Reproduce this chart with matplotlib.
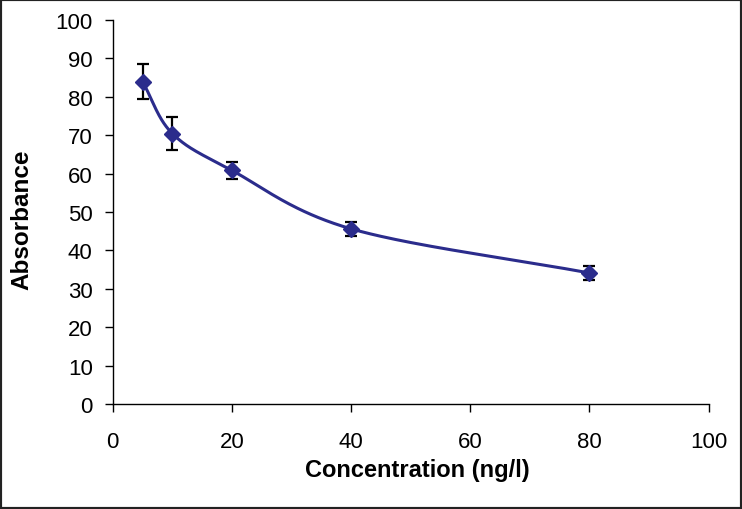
import numpy as np
import matplotlib
matplotlib.use("Agg")
import matplotlib.pyplot as plt
from matplotlib.patches import Rectangle

concentration = [5, 10, 20, 40, 80]
absorbance = [83.9, 70.4, 60.8, 45.6, 34.1]
error = [4.5, 4.2, 2.1, 1.8, 1.9]
x_ticks = [0, 20, 40, 60, 80, 100]
y_ticks = [0, 10, 20, 30, 40, 50, 60, 70, 80, 90, 100]

plt.rcParams['font.family'] = ['Liberation Sans', 'DejaVu Sans']

def smooth_curve(xs, ys, n=60):
    xs = np.asarray(xs, float); ys = np.asarray(ys, float)
    px = np.concatenate([[2*xs[0]-xs[1]], xs, [2*xs[-1]-xs[-2]]])
    py = np.concatenate([[2*ys[0]-ys[1]], ys, [2*ys[-1]-ys[-2]]])
    ox, oy = [], []
    t = np.linspace(0, 1, n)
    for i in range(1, len(px)-2):
        p0 = np.array([px[i], py[i]]); p3 = np.array([px[i+1], py[i+1]])
        c1 = p0 + (np.array([px[i+1], py[i+1]]) - np.array([px[i-1], py[i-1]])) / 6
        c2 = p3 - (np.array([px[i+2], py[i+2]]) - np.array([px[i], py[i]])) / 6
        b = (((1-t)**3)[:, None]*p0 + (3*(1-t)**2*t)[:, None]*c1
             + (3*(1-t)*t**2)[:, None]*c2 + (t**3)[:, None]*p3)
        ox.extend(b[:, 0]); oy.extend(b[:, 1])
    return np.array(ox), np.array(oy)

fig = plt.figure(figsize=(7.42, 5.10), dpi=100)
ax = fig.add_axes([0.152, 0.206, 0.803, 0.753])

color = '#2B2C8C'
sx, sy = smooth_curve(concentration, absorbance)
ax.plot(sx, sy, color=color, lw=2.2, zorder=2, clip_on=False)
ax.errorbar(concentration, absorbance, yerr=error, fmt='none', ecolor='black',
            elinewidth=1.6, capsize=4.3, capthick=1.6, zorder=3)
ax.plot(concentration, absorbance, linestyle='none', marker='D', markersize=8.5,
        color=color, zorder=4)

ax.set_xlim(0, 100)
ax.set_ylim(0, 100)
ax.set_xticks(x_ticks)
ax.set_yticks(y_ticks)
ax.tick_params(direction='out', length=5.5, width=1, labelsize=16, colors='black')
ax.tick_params(axis='x', pad=14)
ax.tick_params(axis='y', pad=9)
for s in ['top', 'right']:
    ax.spines[s].set_visible(False)
for s in ['left', 'bottom']:
    ax.spines[s].set_linewidth(1)
ax.set_xlabel('Concentration (ng/l)', fontsize=17, fontweight='bold')
ax.set_ylabel('Absorbance', fontsize=17.5, fontweight='bold')
ax.xaxis.label.set_va('center')
ax.yaxis.label.set_va('center')
ax.xaxis.set_label_coords(0.511, -0.17)
ax.yaxis.set_label_coords(-0.153, 0.482)

fig.patches.append(Rectangle((0, 0), 1, 1, transform=fig.transFigure, fill=False,
                             edgecolor='#222222', lw=3))
fig.savefig('out.png', dpi=100)
